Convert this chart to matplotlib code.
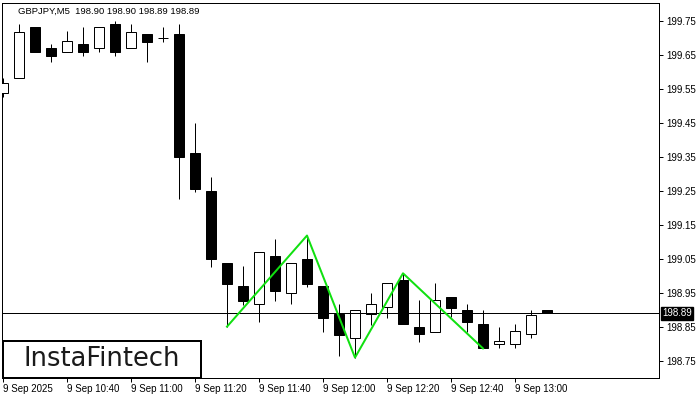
import matplotlib
matplotlib.use("Agg")
import matplotlib.pyplot as plt
from matplotlib.patches import Rectangle

# ---- data ----
times = ["10:20", "10:25", "10:30", "10:35", "10:40", "10:45", "10:50", "10:55",
         "11:00", "11:05", "11:10", "11:15", "11:20", "11:25", "11:30", "11:35",
         "11:40", "11:45", "11:50", "11:55", "12:00", "12:05", "12:10", "12:15",
         "12:20", "12:25", "12:30", "12:35", "12:40", "12:45", "12:50", "12:55",
         "13:00", "13:05", "13:10"]
opens = [199.539, 199.581, 199.731, 199.670, 199.660, 199.682, 199.670, 199.741,
         199.670, 199.712, 199.699, 199.712, 199.361, 199.250, 199.037, 198.971,
         198.917, 199.058, 198.949, 199.050, 198.971, 198.887, 198.817, 198.887,
         198.908, 198.988, 198.849, 198.836, 198.939, 198.900, 198.859, 198.799,
         198.799, 198.829, 198.900]
highs = [199.582, 199.741, 199.731, 199.682, 199.721, 199.733, 199.731, 199.750,
         199.741, 199.712, 199.731, 199.741, 199.449, 199.290, 199.037, 199.029,
         199.071, 199.109, 199.037, 199.119, 198.971, 198.918, 198.899, 198.949,
         198.979, 199.008, 198.929, 198.979, 198.939, 198.918, 198.900, 198.849,
         198.859, 198.900, 198.900]
lows = [199.526, 199.581, 199.660, 199.630, 199.660, 199.648, 199.660, 199.648,
        199.670, 199.630, 199.689, 199.226, 199.248, 199.027, 198.851, 198.915,
        198.866, 198.927, 198.917, 198.969, 198.836, 198.766, 198.760, 198.856,
        198.877, 198.858, 198.807, 198.836, 198.880, 198.836, 198.787, 198.787,
        198.787, 198.817, 198.890]
closes = [199.569, 199.719, 199.660, 199.648, 199.690, 199.660, 199.731, 199.660,
          199.719, 199.689, 199.699, 199.349, 199.257, 199.049, 198.977, 198.927,
          199.071, 198.957, 199.037, 198.977, 198.877, 198.827, 198.899, 198.917,
          198.979, 198.858, 198.829, 198.929, 198.907, 198.866, 198.787, 198.808,
          198.837, 198.886, 198.890]
pattern_idx = [14, 19, 22, 25, 30]
pattern_price = [198.851, 199.119, 198.760, 199.008, 198.787]
ytick_values = [199.75, 199.65, 199.55, 199.45, 199.35, 199.25, 199.15, 199.05, 198.95, 198.85, 198.75]
xtick_idx = [0, 4, 8, 12, 16, 20, 24, 28, 32]
xtick_labels = ["9 Sep 2025", "9 Sep 10:40", "9 Sep 11:00", "9 Sep 11:20", "9 Sep 11:40",
                "9 Sep 12:00", "9 Sep 12:20", "9 Sep 12:40", "9 Sep 13:00"]
symbol = "GBPJPY,M5"
last_price = closes[-1]

# ---- figure ----
fig = plt.figure(figsize=(7, 4), dpi=100)
fig.patch.set_facecolor("white")
ax = fig.add_axes([2 / 700, 22 / 400, 657 / 700, 375 / 400])
ax.set_facecolor("white")
ax.set_xlim(-0.0625, 41.0)
ax.set_ylim(198.70, 199.803)

px = 0.72  # 1 px in points
bw = 0.64
for i in range(len(opens)):
    o, h, l, c = opens[i], highs[i], lows[i], closes[i]
    ax.plot([i, i], [l, h], color="black", lw=px, solid_capstyle="butt", zorder=2)
    bottom = min(o, c)
    height = abs(c - o)
    fc = "white" if c >= o else "black"
    ax.add_patch(Rectangle((i - bw / 2, bottom), bw, height, facecolor=fc,
                           edgecolor="black", lw=px, zorder=3))

ax.axhline(last_price, color="black", lw=px, zorder=4)
ax.plot(pattern_idx, pattern_price, color="#10e010", lw=2 * px, zorder=5)

# axes styling
for s in ax.spines.values():
    s.set_color("black")
    s.set_linewidth(px)
ax.yaxis.tick_right()
ax.set_yticks(ytick_values)
ax.set_yticklabels([f"{v:.2f}" for v in ytick_values])
ax.set_xticks(xtick_idx)
ax.set_xticklabels(xtick_labels, ha="left")
ax.tick_params(axis="both", direction="out", length=3, width=px, color="black",
               labelsize=7, pad=2)
for lab in ax.get_xticklabels() + ax.get_yticklabels():
    lab.set_fontfamily("Liberation Sans")
ax.tick_params(axis="x", pad=1)

# header text
hdr = f"{symbol}  {opens[-1]:.2f} {highs[-1]:.2f} {lows[-1]:.2f} {closes[-1]:.2f}"
fig.text(18 / 700, 1 - 11 / 400, hdr, fontsize=6.8, family="Liberation Sans",
         color="black", va="center", ha="left")

# current price label
fig.text(677 / 700, 1 - 313.5 / 400, f"{last_price:.2f}", fontsize=7,
         family="Liberation Sans", color="white", va="center", ha="center",
         bbox=dict(boxstyle="square,pad=0.15", facecolor="black", edgecolor="black"))

# logo
fig.patches.append(Rectangle((3 / 700, 1 - 378 / 400), 198 / 700, 37 / 400,
                             transform=fig.transFigure, facecolor="white",
                             edgecolor="black", lw=2 * px, zorder=10))
fig.text(102 / 700, 1 - 359.5 / 400, "InstaFintech", fontsize=18.5, family="DejaVu Sans",
         color="#1a1a1a", va="center", ha="center", zorder=11)

fig.savefig("out.png", dpi=100)
